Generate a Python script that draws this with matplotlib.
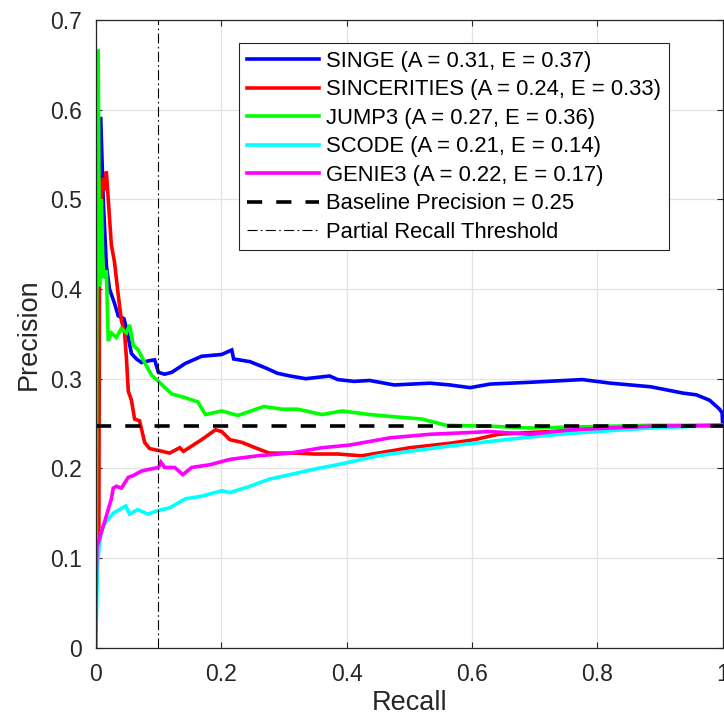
import matplotlib
matplotlib.use("Agg")
import matplotlib.pyplot as plt

plt.rcParams['font.family'] = ['Liberation Sans', 'DejaVu Sans']

# ---- data ----
singe_x = [0.0, 0.002, 0.004, 0.008, 0.012, 0.017, 0.022, 0.03, 0.036, 0.045, 0.049, 0.057, 0.065,
           0.073, 0.085, 0.094, 0.1, 0.11, 0.121, 0.143, 0.169, 0.185, 0.201, 0.217, 0.220, 0.246,
           0.271, 0.290, 0.310, 0.335, 0.373, 0.386, 0.412, 0.437, 0.476, 0.533, 0.565, 0.597, 0.629,
           0.693, 0.776, 0.821, 0.885, 0.936, 0.958, 0.979, 0.995, 0.999, 1.0]
singe_y = [0.10, 0.50, 0.45, 0.592, 0.50, 0.426, 0.40, 0.384, 0.37, 0.367, 0.356, 0.328, 0.322,
           0.318, 0.320, 0.321, 0.307, 0.305, 0.307, 0.317, 0.325, 0.326, 0.327, 0.332, 0.322, 0.319,
           0.312, 0.306, 0.303, 0.300, 0.303, 0.299, 0.297, 0.298, 0.293, 0.295, 0.293, 0.290, 0.294,
           0.296, 0.299, 0.295, 0.291, 0.284, 0.282, 0.276, 0.266, 0.262, 0.248]

sinc_x = [0.005, 0.006, 0.01, 0.014, 0.017, 0.02, 0.025, 0.03, 0.036, 0.041, 0.046, 0.049, 0.052,
          0.057, 0.062, 0.07, 0.078, 0.086, 0.1, 0.118, 0.134, 0.14, 0.169, 0.191, 0.201, 0.214,
          0.233, 0.258, 0.277, 0.322, 0.348, 0.386, 0.424, 0.450, 0.501, 0.565, 0.604, 0.642, 0.693,
          0.757, 0.821, 1.0]
sinc_y = [0.12, 0.407, 0.524, 0.51, 0.531, 0.50, 0.449, 0.43, 0.393, 0.365, 0.351, 0.323, 0.286,
          0.276, 0.255, 0.253, 0.229, 0.222, 0.220, 0.217, 0.223, 0.219, 0.232, 0.243, 0.241, 0.232,
          0.229, 0.222, 0.217, 0.217, 0.216, 0.216, 0.214, 0.217, 0.223, 0.228, 0.232, 0.238, 0.240,
          0.242, 0.245, 0.248]

jump_x = [0.001, 0.002, 0.004, 0.006, 0.009, 0.012, 0.017, 0.02, 0.025, 0.033, 0.041, 0.049, 0.054,
          0.06, 0.068, 0.078, 0.089, 0.1, 0.121, 0.142, 0.163, 0.175, 0.201, 0.227, 0.268, 0.297,
          0.322, 0.361, 0.393, 0.437, 0.469, 0.520, 0.559, 0.629, 0.693, 0.757, 0.885, 1.0]
jump_y = [0.12, 0.45, 0.667, 0.403, 0.50, 0.412, 0.421, 0.342, 0.351, 0.346, 0.356, 0.351, 0.36,
          0.337, 0.332, 0.318, 0.304, 0.297, 0.283, 0.279, 0.274, 0.260, 0.264, 0.259, 0.269, 0.266,
          0.266, 0.260, 0.264, 0.260, 0.258, 0.255, 0.248, 0.247, 0.245, 0.246, 0.248, 0.248]

scode_x = [0.0, 0.003, 0.006, 0.009, 0.014, 0.022, 0.028, 0.048, 0.054, 0.067, 0.083, 0.1, 0.118,
           0.143, 0.169, 0.201, 0.214, 0.246, 0.277, 0.31, 0.348, 0.399, 0.45, 0.501, 0.565, 0.629,
           0.693, 0.757, 0.821, 0.885, 1.0]
scode_y = [0.0, 0.094, 0.115, 0.129, 0.138, 0.145, 0.150, 0.158, 0.149, 0.154, 0.149, 0.153, 0.156,
           0.166, 0.169, 0.175, 0.173, 0.180, 0.188, 0.193, 0.199, 0.206, 0.214, 0.219, 0.225, 0.230,
           0.235, 0.239, 0.242, 0.245, 0.248]

genie_x = [0.0, 0.001, 0.002, 0.006, 0.014, 0.025, 0.028, 0.033, 0.041, 0.052, 0.06, 0.073, 0.086,
           0.1, 0.104, 0.11, 0.126, 0.139, 0.153, 0.182, 0.214, 0.258, 0.31, 0.361, 0.405, 0.469,
           0.533, 0.629, 0.693, 0.757, 0.885, 1.0]
genie_y = [0.0, 0.08, 0.112, 0.122, 0.14, 0.166, 0.178, 0.18, 0.178, 0.19, 0.192, 0.197, 0.199,
           0.201, 0.207, 0.201, 0.201, 0.193, 0.201, 0.204, 0.21, 0.214, 0.217, 0.223, 0.226, 0.234,
           0.238, 0.241, 0.238, 0.243, 0.247, 0.248]

labels = ["SINGE (A = 0.31, E = 0.37)", "SINCERITIES (A = 0.24, E = 0.33)",
          "JUMP3 (A = 0.27, E = 0.36)", "SCODE (A = 0.21, E = 0.14)",
          "GENIE3 (A = 0.22, E = 0.17)"]
colors = ["#0000ff", "#ff0000", "#00ff00", "#00ffff", "#ff00ff"]
baseline_value = 0.247
baseline_label = "Baseline Precision = 0.25"
threshold_value = 0.1
threshold_label = "Partial Recall Threshold"

xticks = [0, 0.2, 0.4, 0.6, 0.8, 1.0]
xticklabels = ["0", "0.2", "0.4", "0.6", "0.8", "1"]
yticks = [0, 0.1, 0.2, 0.3, 0.4, 0.5, 0.6, 0.7]
yticklabels = ["0", "0.1", "0.2", "0.3", "0.4", "0.5", "0.6", "0.7"]

# ---- figure ----
fig = plt.figure(figsize=(7.24, 7.22), dpi=100)
ax = fig.add_axes([95.7 / 724, 1 - 647.7 / 722, (722.7 - 95.7) / 724, (647.7 - 20) / 722])

series = [(singe_x, singe_y), (sinc_x, sinc_y), (jump_x, jump_y), (scode_x, scode_y), (genie_x, genie_y)]
handles = []
for (xs, ys), lab, col in zip(series, labels, colors):
    h, = ax.plot(xs, ys, color=col, lw=2.6, label=lab, solid_joinstyle='miter')
    handles.append(h)

hb = ax.axhline(baseline_value, color='black', lw=2.6, linestyle=(0, (4.2, 3.9)), label=baseline_label)
hv = ax.axvline(threshold_value, color='black', lw=0.8, linestyle=(0, (9, 3, 1.5, 3)), label=threshold_label)
handles += [hb, hv]

ax.set_xlim(0, 1)
ax.set_ylim(0, 0.7)
ax.set_xticks(xticks)
ax.set_xticklabels(xticklabels)
ax.set_yticks(yticks)
ax.set_yticklabels(yticklabels)

ax.grid(True, color='#e3e3e3', lw=0.9)
ax.set_axisbelow(True)

for sp in ax.spines.values():
    sp.set_color('#262626')
    sp.set_linewidth(0.9)

ax.tick_params(direction='in', length=4.5, width=0.8, colors='#262626',
               labelsize=16.5, top=True, right=True, labelcolor='#262626')
ax.tick_params(axis='x', pad=11)
ax.tick_params(axis='y', pad=10)

ax.set_xlabel("Recall", fontsize=19.5, color='#262626', labelpad=3)
ax.set_ylabel("Precision", fontsize=19.5, color='#262626', labelpad=6)

leg = ax.legend(handles=handles, loc='upper left',
                bbox_to_anchor=(239.3 / 724, 1 - 43.3 / 722), bbox_transform=fig.transFigure,
                fontsize=15.8, frameon=True, fancybox=False, framealpha=1,
                edgecolor='#262626', handlelength=3.3, handletextpad=0.3,
                labelspacing=0.34, borderpad=0.35, borderaxespad=0)
leg.get_frame().set_linewidth(0.8)
for t in leg.get_texts():
    t.set_color('black')

fig.savefig("out.png", dpi=100)
